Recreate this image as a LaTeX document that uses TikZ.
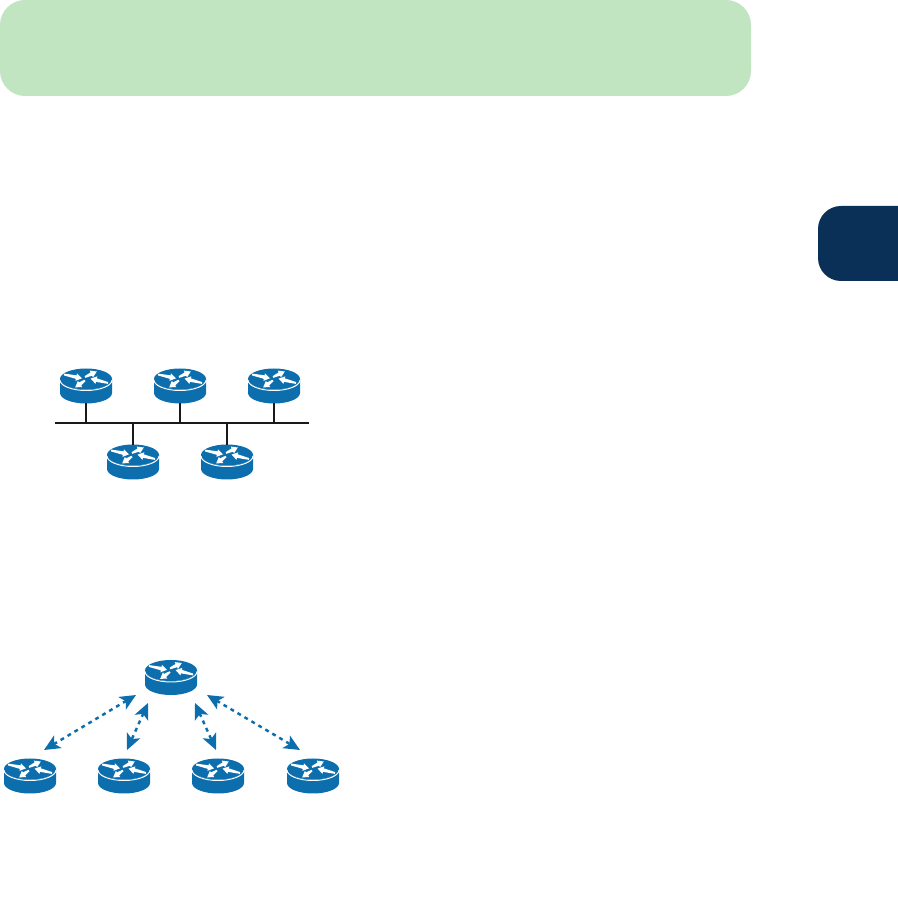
\documentclass[tikz,border=0pt]{standalone}
\usepackage{xcolor}
\usetikzlibrary{arrows.meta}
\definecolor{bannerGreen}{RGB}{193,228,193}
\definecolor{tabNavy}{RGB}{11,48,88}
\definecolor{routerBlue}{RGB}{13,110,173}

\begin{document}
\begin{tikzpicture}[x=0.02cm,y=0.02cm,>=Stealth,
    routerbox/.style={minimum width=1.04cm,minimum height=0.68cm,inner sep=0pt},
    busline/.style={line width=1.15pt,black!90},
    peerlink/.style={<->,line width=1.4pt,routerBlue,dash pattern=on 2.2pt off 2.4pt,
      >={Stealth[length=3.2mm,width=2.9mm,inset=0.8mm]}},
    routericon/.pic={
      \fill[routerBlue] (-26,7) arc (180:360:26 and 10.5) -- (26,-7) arc (360:180:26 and 10.5) -- cycle;
      \fill[routerBlue] (0,7) ellipse (26 and 10.5);
      \draw[white,line width=0.55pt] (-26,6) arc (180:360:26 and 10.5);
      \foreach \ax/\ay/\ang/\len in {-22/11.5/-12/18.5, -1/9/25/13, -1/5.5/215/12, 22/3/166/18}{
        \fill[white,shift={(\ax,\ay)},rotate=\ang]
          (0,-0.9) -- (\len-6,-1.8) -- (\len-6,-3.8) -- (\len,0) -- (\len-6,3.8) -- (\len-6,1.8) -- (0,0.9) -- cycle;
      }
    }]
  \useasboundingbox (0,0) rectangle (897,900);
  \fill[bannerGreen,rounded corners=0.5cm] (0,804) rectangle (751,900);
  \fill[tabNavy,rounded corners=0.46cm] (818,619) rectangle (940,694);
  % shared segment
  \foreach \n/\x/\y in {segA/86/514,segB/180/514,segC/274/514,segD/133/438,segE/227/438}{
    \node[routerbox] (\n) at (\x,\y) {};
    \pic at (\n) {routericon};
  }
  \coordinate (busL) at (55,477);
  \coordinate (busR) at (309,477);
  \draw[busline] (busL) -- (busR);
  \foreach \n in {segA,segB,segC}{
    \draw[busline] (\n.south) -- (\n.south|-busL);
  }
  \foreach \n in {segD,segE}{
    \draw[busline] (\n.north) -- (\n.north|-busL);
  }
  % hub and spokes
  \foreach \n/\x/\y in {hub/171/222.5,spokeA/30/124,spokeB/124/124,spokeC/218/124,spokeD/313/124}{
    \node[routerbox] (\n) at (\x,\y) {};
    \pic at (\n) {routericon};
  }
  \coordinate (hubA) at (136,205);
  \coordinate (hubB) at (148,197);
  \coordinate (hubC) at (195,197);
  \coordinate (hubD) at (207,205);
  \coordinate (tipA) at (44,150);
  \coordinate (tipB) at (127,150);
  \coordinate (tipC) at (216,150);
  \coordinate (tipD) at (300,150);
  \draw[peerlink] (hubA) -- (tipA);
  \draw[peerlink] (hubB) -- (tipB);
  \draw[peerlink] (hubC) -- (tipC);
  \draw[peerlink] (hubD) -- (tipD);
\end{tikzpicture}
\end{document}
